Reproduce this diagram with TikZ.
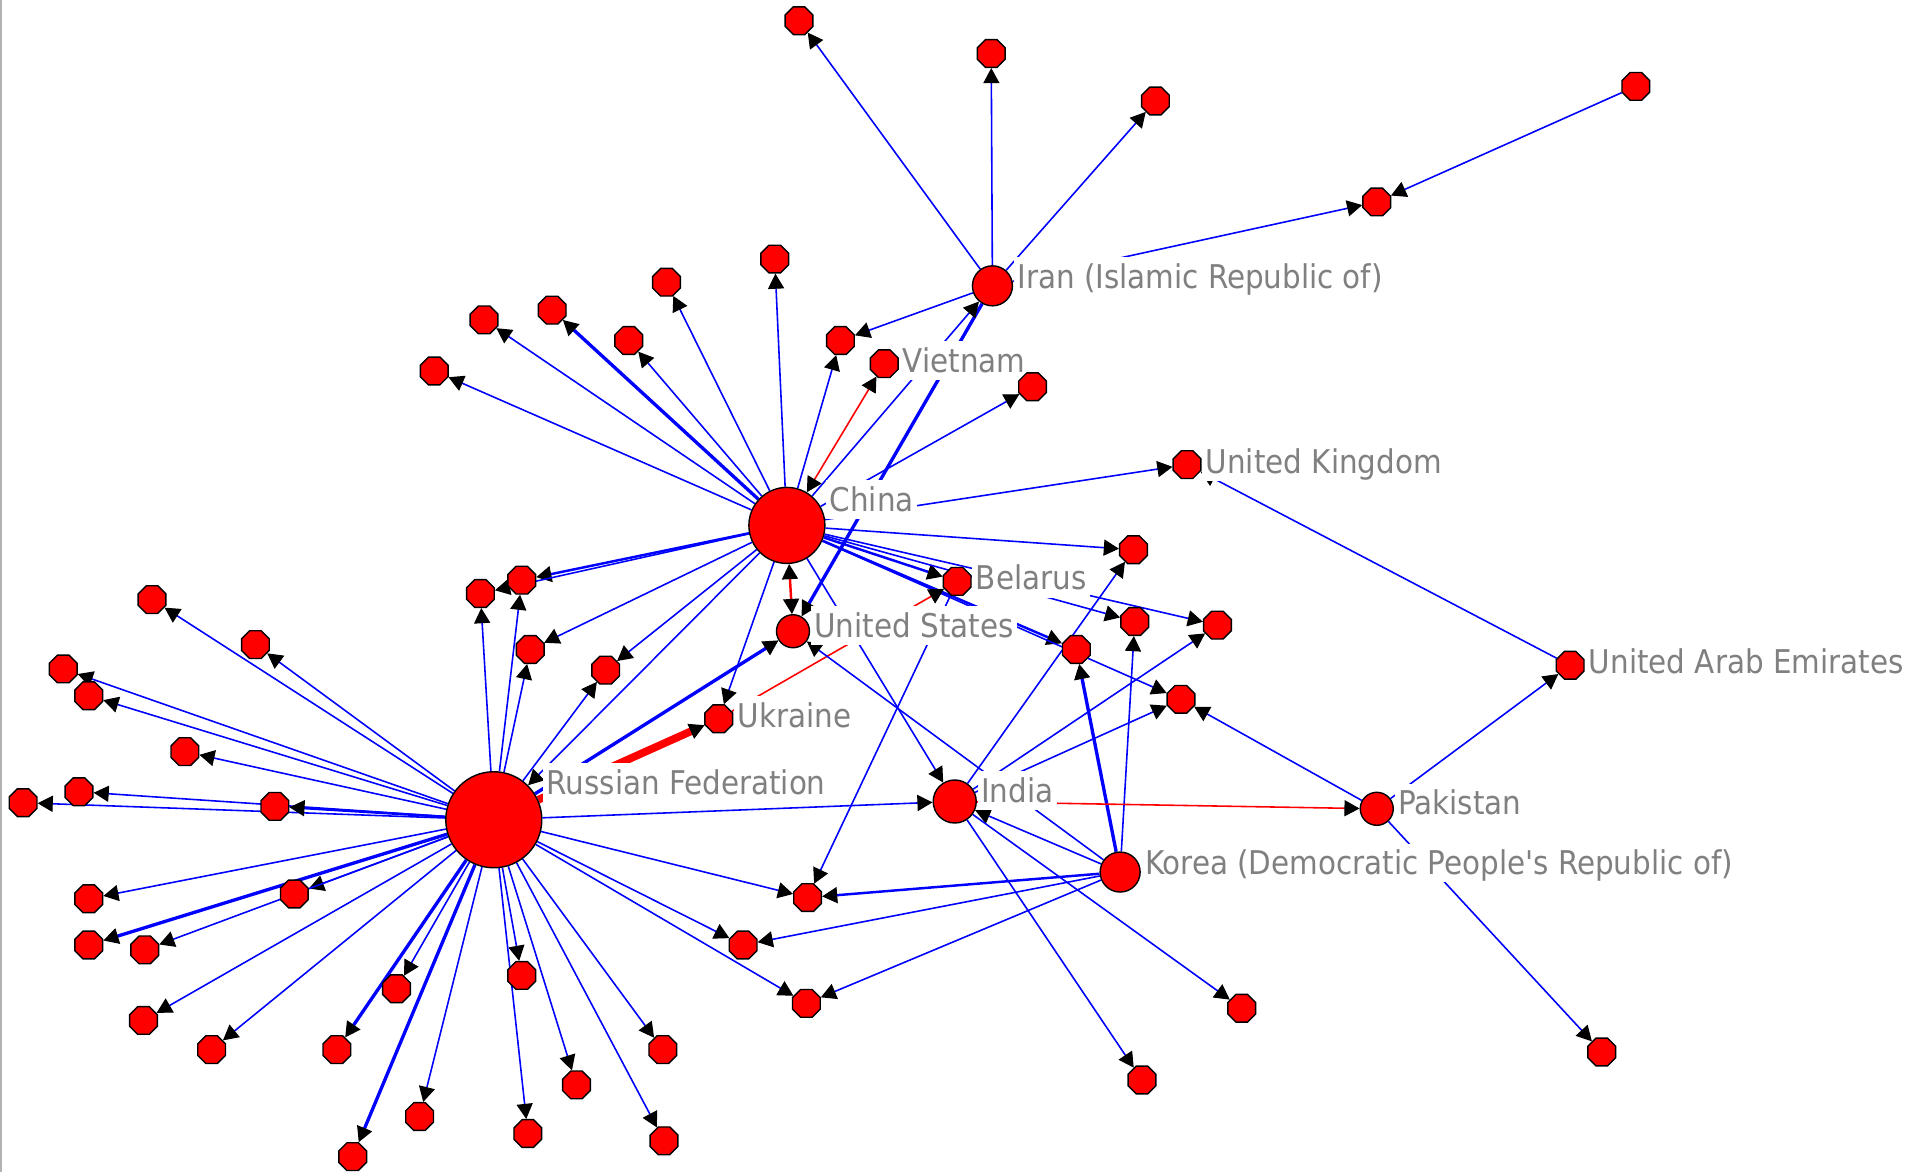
\documentclass[tikz,border=0pt]{standalone}
\usepackage{tikz}
\usepackage{xcolor}
\usepackage{fontspec}
\setmainfont{DejaVu Sans Condensed}
\usetikzlibrary{arrows.meta,shapes.geometric}

\pgfdeclarelayer{edges}
\pgfdeclarelayer{labels}
\pgfsetlayers{edges,labels,main}

\begin{document}
\begin{tikzpicture}[x=0.012162cm, y=-0.012162cm,
	vtx/.style = {circle, draw=black, line width=0.4pt, fill=red, inner sep=0pt, minimum size=#1},
	vtx/.default = 0.29cm,
	oct/.style = {regular polygon, regular polygon sides=8, draw=black, line width=0.4pt, fill=red,
		inner sep=0pt, minimum size=0.3cm},
	lbl/.style = {anchor=base west, fill=white, text=gray, inner xsep=1pt, inner ysep=0pt,
		text height=8.8pt, text depth=2.2pt, font=\fontsize{9.3}{10}\selectfont},
	>={Triangle[length=4.3pt, width=4.6pt, line width=0.3pt, color=black]},
	ln/.style = {draw=blue, line width=0.45pt, ->},
	lnm/.style = {ln, line width=0.7pt},
	lnb/.style = {ln, line width=0.95pt},
	rd/.style = {ln, draw=red},
	rdb/.style = {rd, line width=2.2pt}]

	\useasboundingbox (0,0) rectangle (1568,964);
	\draw[gray!60, line width=0.8pt] (0.5,0) -- (0.5,964);

	\node[vtx=0.96cm] (RUS) at (406,674) {};
	\node[vtx=0.76cm] (CHN) at (647,432) {};
	\node[vtx=0.40cm] (IRN) at (816,235) {};
	\node[vtx=0.43cm] (IND) at (785,659) {};
	\node[vtx=0.40cm] (PRK) at (921,717) {};
	\node[vtx=0.33cm] (USA) at (652,519) {};
	\node[vtx=0.33cm] (PAK) at (1132,665) {};
	\node[oct] (VNM) at (727,299) {};
	\node[oct] (GBR) at (976,382) {};
	\node[oct] (BLR) at (787,478) {};
	\node[oct] (UKR) at (591,591) {};
	\node[oct] (ARE) at (1291,547) {};

	\node[oct] (1) at (657,17) {};
	\node[oct] (2) at (815,44) {};
	\node[oct] (3) at (950,83) {};
	\node[oct] (4) at (1345,71) {};
	\node[oct] (5) at (1132,166) {};
	\node[oct] (6) at (637,213) {};
	\node[oct] (7) at (548,232) {};
	\node[oct] (8) at (454,255) {};
	\node[oct] (9) at (398,263) {};
	\node[oct] (10) at (517,280) {};
	\node[oct] (11) at (357,305) {};
	\node[oct] (12) at (691,280) {};
	\node[oct] (13) at (849,318) {};
	\node[oct] (14) at (932,452) {};
	\node[oct] (15) at (933,511) {};
	\node[oct] (16) at (1001,514) {};
	\node[oct] (17) at (885,534) {};
	\node[oct] (18) at (971,575) {};
	\node[oct] (19) at (1021,829) {};
	\node[oct] (20) at (939,888) {};
	\node[oct] (21) at (1317,865) {};
	\node[oct] (22) at (664,738) {};
	\node[oct] (23) at (611,777) {};
	\node[oct] (24) at (663,825) {};

	\node[oct] (25) at (429,477) {};
	\node[oct] (26) at (395,488) {};
	\node[oct] (27) at (436,534) {};
	\node[oct] (28) at (498,551) {};
	\node[oct] (29) at (125,493) {};
	\node[oct] (30) at (210,530) {};
	\node[oct] (31) at (52,550) {};
	\node[oct] (32) at (73,572) {};
	\node[oct] (33) at (152,618) {};
	\node[oct] (34) at (65,651) {};
	\node[oct] (35) at (19,660) {};
	\node[oct] (36) at (226,663) {};
	\node[oct] (37) at (73,739) {};
	\node[oct] (38) at (242,735) {};
	\node[oct] (39) at (73,777) {};
	\node[oct] (40) at (119,781) {};
	\node[oct] (41) at (118,839) {};
	\node[oct] (42) at (174,863) {};
	\node[oct] (43) at (277,863) {};
	\node[oct] (44) at (326,813) {};
	\node[oct] (45) at (429,802) {};
	\node[oct] (46) at (474,892) {};
	\node[oct] (47) at (545,863) {};
	\node[oct] (48) at (345,918) {};
	\node[oct] (49) at (434,932) {};
	\node[oct] (50) at (546,938) {};
	\node[oct] (51) at (290,951) {};

	\begin{pgfonlayer}{labels}
	\path (RUS.east |- RUS.north) ++(0,19) node[lbl] (tRUS) {Russian Federation};
	\path (CHN.east |- CHN.north) ++(0,20) node[lbl] (tCHN) {China};
	\path (IRN.east |- IRN.north) ++(0,19) node[lbl] (tIRN) {Iran (Islamic Republic of)};
	\path (IND.east |- IND.north) ++(0,19) node[lbl] (tIND) {India};
	\path (PRK.east |- PRK.north) ++(0,19) node[lbl] (tPRK) {Korea (Democratic People\textquotesingle s Republic of)};
	\path (USA.east |- USA.north) ++(0,19) node[lbl] (tUSA) {United States};
	\path (PAK.east |- PAK.north) ++(0,19) node[lbl] (tPAK) {Pakistan};
	\path (VNM.east |- VNM.north) ++(0,19) node[lbl] (tVNM) {Vietnam};
	\path (GBR.east |- GBR.north) ++(0,19) node[lbl] (tGBR) {United Kingdom};
	\path (BLR.east |- BLR.north) ++(0,19) node[lbl] (tBLR) {Belarus};
	\path (UKR.east |- UKR.north) ++(0,19) node[lbl] (tUKR) {Ukraine};
	\path (ARE.east |- ARE.north) ++(0,19) node[lbl] (tARE) {United Arab Emirates};
	\end{pgfonlayer}

	\begin{pgfonlayer}{edges}
	\draw[ln] (IRN) -- (1);
	\draw[ln] (IRN) -- (2);
	\draw[ln] (IRN) -- (3);
	\draw[ln] (IRN) -- (12);
	\draw[ln] (IRN) -- (5);
	\draw[ln] (4) -- (5);
	\draw[lnb] (IRN) -- (USA);

	\draw[ln] (CHN) -- (IRN);
	\draw[ln] (CHN) -- (6);
	\draw[ln] (CHN) -- (7);
	\draw[lnb] (CHN) -- (8);
	\draw[ln] (CHN) -- (9);
	\draw[ln] (CHN) -- (10);
	\draw[ln] (CHN) -- (11);
	\draw[ln] (CHN) -- (12);
	\draw[ln] (CHN) -- (13);
	\draw[ln] (CHN) -- (GBR);
	\draw[ln] (CHN) -- (14);
	\draw[lnm] (CHN) -- (BLR);
	\draw[ln] (CHN) -- (15);
	\draw[ln] (CHN) -- (16);
	\draw[lnm] (CHN) -- (17);
	\draw[ln] (CHN) -- (18);
	\draw[ln] (CHN) -- (IND);
	\draw[ln] (CHN) -- (UKR);
	\draw[ln] (CHN) -- (RUS);
	\draw[lnm] (CHN) -- (25);
	\draw[ln] (CHN) -- (26);
	\draw[ln] (CHN) -- (27);
	\draw[ln] (CHN) -- (28);
	\draw[rd, <->] (CHN) -- (VNM);
	\draw[rd, <->, line width=0.7pt] (CHN) -- (USA);

	\draw[ln] (RUS) -- (25);
	\draw[ln] (RUS) -- (26);
	\draw[ln] (RUS) -- (27);
	\draw[ln] (RUS) -- (28);
	\draw[ln] (RUS) -- (29);
	\draw[ln] (RUS) -- (30);
	\draw[ln] (RUS) -- (31);
	\draw[ln] (RUS) -- (32);
	\draw[ln] (RUS) -- (33);
	\draw[ln] (RUS) -- (34);
	\draw[ln] (RUS) -- (35);
	\draw[lnm] (RUS) -- (36);
	\draw[ln] (RUS) -- (37);
	\draw[ln] (RUS) -- (38);
	\draw[lnb] (RUS) -- (39);
	\draw[ln] (RUS) -- (40);
	\draw[ln] (RUS) -- (41);
	\draw[ln] (RUS) -- (42);
	\draw[lnb] (RUS) -- (43);
	\draw[ln] (RUS) -- (44);
	\draw[ln] (RUS) -- (45);
	\draw[ln] (RUS) -- (46);
	\draw[ln] (RUS) -- (47);
	\draw[ln] (RUS) -- (48);
	\draw[ln] (RUS) -- (49);
	\draw[ln] (RUS) -- (50);
	\draw[lnb] (RUS) -- (51);
	\draw[ln] (RUS) -- (IND);
	\draw[ln] (RUS) -- (22);
	\draw[ln] (RUS) -- (23);
	\draw[ln] (RUS) -- (24);
	\draw[lnb] (RUS) -- (USA);
	\draw[rdb] (RUS) -- (UKR);

	\draw[rd] (UKR) -- (BLR);
	\draw[ln] (BLR) -- (22);

	\draw[ln] (PRK) -- (USA);
	\draw[ln] (PRK) -- (IND);
	\draw[lnm] (PRK) -- (22);
	\draw[ln] (PRK) -- (23);
	\draw[ln] (PRK) -- (24);
	\draw[ln] (PRK) -- (15);
	\draw[lnb] (PRK) -- (17);

	\draw[ln] (IND) -- (14);
	\draw[ln] (IND) -- (16);
	\draw[ln] (IND) -- (18);
	\draw[ln] (IND) -- (19);
	\draw[ln] (IND) -- (20);
	\draw[rd] (IND) -- (PAK);

	\draw[ln] (PAK) -- (18);
	\draw[ln] (PAK) -- (ARE);
	\draw[ln] (PAK) -- (21);
	\draw[ln] (ARE) -- (GBR);
	\end{pgfonlayer}

\end{tikzpicture}
\end{document}
